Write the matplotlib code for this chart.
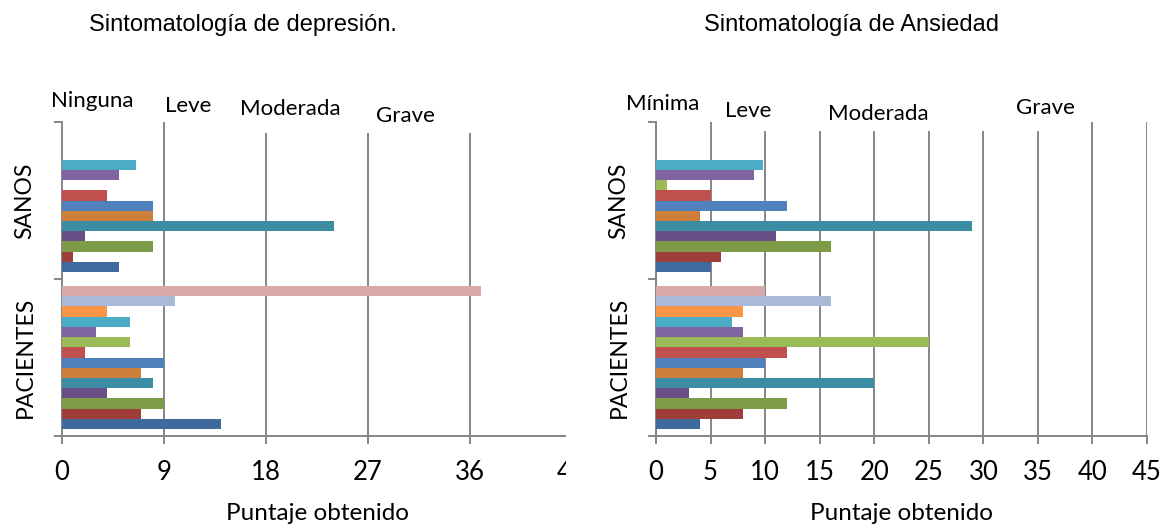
import numpy as np
import matplotlib.pyplot as plt
from matplotlib.patches import Rectangle

plt.rcParams["font.family"] = "Lato"

W, H = 1163, 525

categorias = ["PACIENTES", "SANOS"]
colores = ["#3F6A9E", "#9E3E3B", "#7E9B47", "#6A4F86", "#3C8DA3", "#CD7E3B",
           "#4F81BD", "#C0504D", "#9BBB59", "#8064A2", "#4BACC6", "#F79646",
           "#A9BAD9", "#D9A9A9"]

# one value per series (bottom to top inside each group)
dep_pacientes = [14, 7, 9, 4, 8, 7, 9, 2, 6, 3, 6, 4, 10, 37]
dep_sanos = [5, 1, 8, 2, 24, 8, 8, 4, 0, 5, 6.5, 0, 0, 0]
ans_pacientes = [4, 8, 12, 3, 20, 8, 10, 12, 25, 8, 7, 8, 16, 10]
ans_sanos = [5, 6, 16, 11, 29, 4, 12, 5, 1, 9, 9.8, 0, 0, 0]

dep_ticks = [0, 9, 18, 27, 36, 45]
ans_ticks = [0, 5, 10, 15, 20, 25, 30, 35, 40, 45]

dep_titulo = "Sintomatología de depresión."
ans_titulo = "Sintomatología de Ansiedad"
dep_niveles = ["Ninguna", "Leve", "Moderada", "Grave"]
ans_niveles = ["Mínima", "Leve", "Moderada", "Grave"]

gris = "#868686"


def px(x0, y0, x1, y1):
    # pixel box -> figure fraction [left, bottom, width, height]
    return [x0 / W, 1 - y1 / H, (x1 - x0) / W, (y1 - y0) / H]


def panel(ax, pac, san, ticks, mascara):
    n = len(pac)
    h = 0.91 / n
    off = (np.arange(n) - (n - 1) / 2) * h
    for i in range(n):
        ax.barh([0.5 + off[i], 1.5 + off[i]], [pac[i], san[i]], height=h,
                color=colores[i], edgecolor="none", zorder=3)
    ax.set_xlim(ticks[0], ticks[-1])
    ax.set_ylim(0, 2)
    ax.set_xticks(ticks)
    ax.set_xticklabels([str(t) for t in ticks], fontsize=18.5)
    ax.grid(axis="x", color=gris, linewidth=1.4, zorder=0)
    ax.set_axisbelow(True)
    ax.set_yticks([0.5, 1.5])
    ax.set_yticklabels(categorias, rotation=90, va="center", fontsize=16.5)
    ax.set_yticks([0, 1, 2], minor=True)
    ax.tick_params(axis="y", which="major", length=0, pad=19)
    ax.tick_params(axis="y", which="minor", length=6, color=gris, width=1.4)
    ax.tick_params(axis="x", length=6, color=gris, width=1.4, pad=11)
    for s in ["top", "right"]:
        ax.spines[s].set_visible(False)
    for s in ["left", "bottom"]:
        ax.spines[s].set_color(gris)
        ax.spines[s].set_linewidth(1.4)
    ax.set_xlabel("Puntaje obtenido", fontsize=17.5, va="baseline")
    ax.xaxis.set_label_coords(0.5, (436 - 520) / 314)
    # white label box that hides the top of some gridlines
    ax.add_patch(Rectangle((mascara[0], mascara[2]), mascara[1] - mascara[0],
                           1 - mascara[2], transform=ax.transAxes,
                           facecolor="white", edgecolor="none", zorder=1,
                           clip_on=False))


fig = plt.figure(figsize=(W / 100, H / 100), dpi=100)

ax1 = fig.add_axes(px(62, 122, 572, 436))
panel(ax1, dep_pacientes, dep_sanos, dep_ticks, (0.24, 1.0, 0.965))

ax2 = fig.add_axes(px(656, 122, 1147, 436))
panel(ax2, ans_pacientes, ans_sanos, ans_ticks, (0.16, 0.85, 0.972))

# crop of the left chart at its right edge
fig.patches.append(Rectangle((566 / W, 0), 30 / W, 1, transform=fig.transFigure,
                             facecolor="white", edgecolor="none", zorder=10))

fig.text(243 / W, 1 - 25 / H, dep_titulo, family="Liberation Sans",
         fontsize=17, ha="center", va="center")
fig.text(851 / W, 1 - 25 / H, ans_titulo, family="Liberation Sans",
         fontsize=17, ha="center", va="center")

for txt, x, y in zip(dep_niveles, [92, 188, 290, 405], [107, 112, 115, 122]):
    fig.text(x / W, 1 - y / H, txt, fontsize=16, ha="center", va="baseline")
for txt, x, y in zip(ans_niveles, [663, 748, 878, 1045], [110, 117, 120, 114]):
    fig.text(x / W, 1 - y / H, txt, fontsize=16, ha="center", va="baseline")

fig.savefig("out.png", dpi=100, facecolor="white")
